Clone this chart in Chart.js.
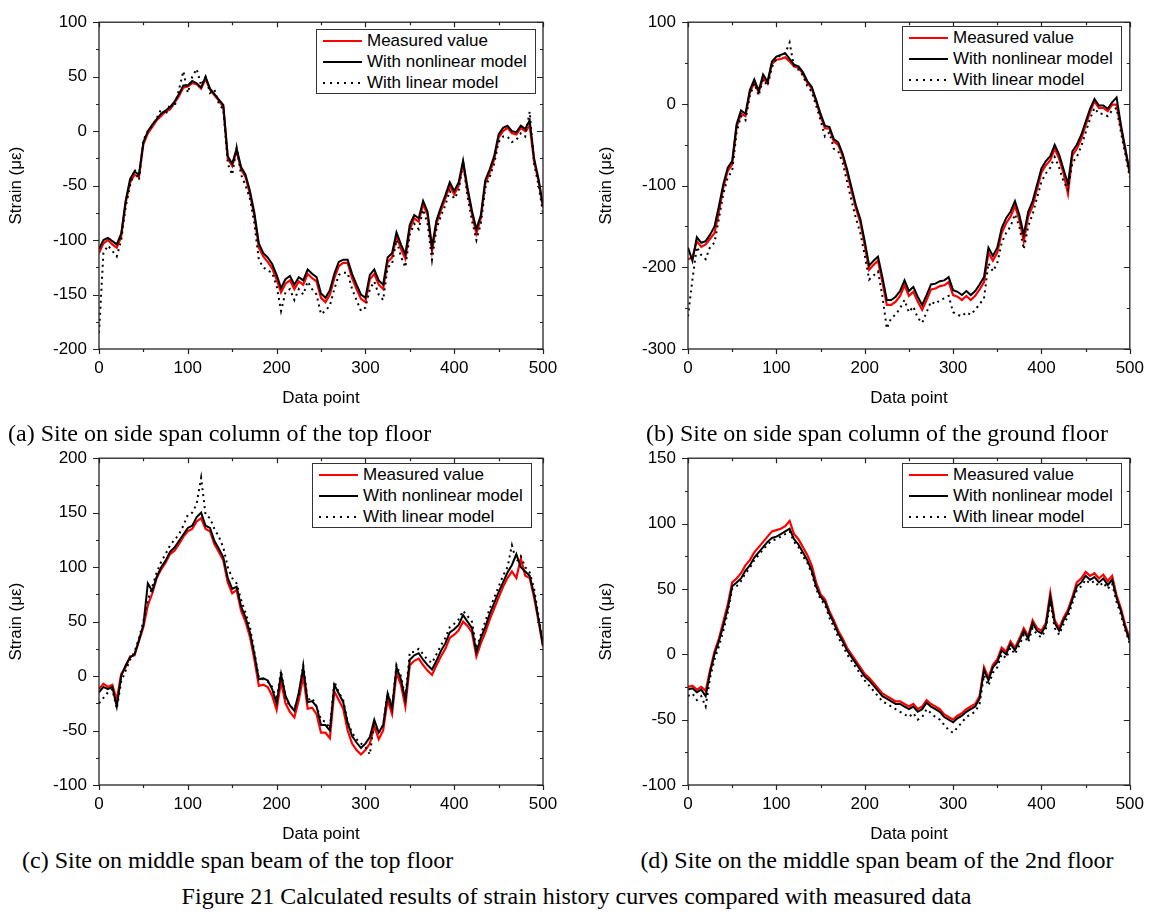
<!DOCTYPE html>
<html>
<head>
<meta charset="utf-8">
<script src="https://cdn.jsdelivr.net/npm/chart.js@4.4.0/dist/chart.umd.min.js"></script>
<style>
  body { margin: 0; width: 1153px; height: 916px; background: #fff; position: relative; overflow: hidden; font-family: "Liberation Sans", Arial, sans-serif; }
  canvas { position: absolute; }
  .legend { position: absolute; width: 220px; height: 65px; box-sizing: border-box; border: 1px solid #333; background: #fff; font-size: 17px; color: #000; }
  .legend .row { position: absolute; left: 0; height: 20px; line-height: 20px; width: 100%; }
  .legend .sample { position: absolute; left: 6px; top: 9px; width: 39px; height: 2px; }
  .legend .s0 { background: #ff0000; }
  .legend .s1 { background: #000; }
  .legend .s2 { background: repeating-linear-gradient(to right, #000 0 2.5px, transparent 2.5px 7px); }
  .legend .label { position: absolute; left: 50px; white-space: nowrap; }
  .caption { position: absolute; font-family: "Liberation Serif", "Times New Roman", serif; font-size: 24px; line-height: 24px; white-space: nowrap; color: #000; }
</style>
</head>
<body>
<canvas id="chartA" width="576" height="410" style="left:0px;top:0px"></canvas>
<canvas id="chartB" width="563" height="410" style="left:590px;top:0px"></canvas>
<canvas id="chartC" width="576" height="410" style="left:0px;top:436px"></canvas>
<canvas id="chartD" width="563" height="410" style="left:590px;top:436px"></canvas>

<div class="caption" style="left:8px;top:421px">(a) Site on side span column of the top floor</div>
<div class="caption" style="left:607px;width:540px;text-align:center;top:421px">(b) Site on side span column of the ground floor</div>
<div class="caption" style="left:22px;top:848px">(c) Site on middle span beam of the top floor</div>
<div class="caption" style="left:607px;width:540px;text-align:center;top:848px">(d) Site on the middle span beam of the 2nd floor</div>
<div class="caption" style="left:0;width:1153px;text-align:center;top:884px">Figure 21 Calculated results of strain history curves compared with measured data</div>

<script>
// Data point index (every 5th point)
const dataPoint = [0, 5, 10, 15, 20, 25, 30, 35, 40, 45, 50, 55, 60, 65, 70, 75, 80, 85, 90, 95,
  100, 105, 110, 115, 120, 125, 130, 135, 140, 145, 150, 155, 160, 165, 170, 175, 180, 185, 190, 195,
  200, 205, 210, 215, 220, 225, 230, 235, 240, 245, 250, 255, 260, 265, 270, 275, 280, 285, 290, 295,
  300, 305, 310, 315, 320, 325, 330, 335, 340, 345, 350, 355, 360, 365, 370, 375, 380, 385, 390, 395,
  400, 405, 410, 415, 420, 425, 430, 435, 440, 445, 450, 455, 460, 465, 470, 475, 480, 485, 490, 495, 500];

const seriesNames = ['Measured value', 'With nonlinear model', 'With linear model'];
const xTicks = [0, 100, 200, 300, 400, 500];

// (a) side span column, top floor
const aYTicks = [-200, -150, -100, -50, 0, 50, 100];
const aMeasured = [-112, -103, -100, -104, -107, -97, -66, -47, -40, -42,
  -12, -2, 4, 10, 14, 18, 20, 26, 32, 40,
  41, 44, 43, 39, 48, 38, 33, 28, 22, -25,
  -32, -18, -35, -42, -58, -78, -107, -115, -120, -126,
  -136, -148, -140, -137, -145, -138, -141, -131, -135, -138,
  -153, -157, -150, -135, -124, -121, -121, -135, -145, -154,
  -157, -136, -131, -141, -145, -120, -116, -96, -108, -117,
  -90, -80, -83, -67, -77, -110, -85, -73, -62, -50,
  -58, -50, -30, -55, -76, -94, -80, -48, -38, -26,
  -6, 0, 3, -2, -3, 3, 0, 5, -28, -46, -70];
const aNonlinear = [-108, -100, -98, -101, -104, -94, -64, -44, -37, -40,
  -10, 0, 6, 11, 16, 19, 22, 27, 34, 42,
  42, 46, 44, 40, 50, 39, 34, 29, 24, -23,
  -30, -16, -33, -40, -55, -75, -103, -112, -116, -122,
  -132, -144, -136, -133, -141, -134, -137, -127, -131, -134,
  -149, -153, -146, -131, -120, -118, -118, -131, -141, -150,
  -153, -132, -127, -137, -141, -116, -112, -93, -104, -113,
  -86, -77, -80, -64, -74, -106, -82, -70, -59, -47,
  -55, -47, -27, -52, -73, -90, -77, -45, -35, -23,
  -3, 3, 5, 0, -1, 5, 2, 10, -25, -44, -68];
const aLinear = [-185, -112, -105, -110, -115, -100, -70, -50, -35, -45,
  -8, 0, 5, 12, 20, 15, 25, 22, 38, 55,
  35, 50, 57, 42, 50, 35, 38, 25, 20, -30,
  -40, -15, -40, -50, -62, -85, -118, -125, -128, -130,
  -142, -165, -148, -145, -155, -145, -150, -138, -145, -150,
  -168, -165, -160, -145, -132, -130, -130, -145, -155, -165,
  -162, -145, -138, -150, -155, -125, -122, -100, -115, -125,
  -95, -85, -90, -72, -85, -118, -90, -78, -68, -55,
  -62, -55, -28, -60, -82, -100, -85, -52, -42, -30,
  -10, -5, -5, -10, -8, -2, -5, 18, -30, -50, -75];

// (b) side span column, ground floor
const bYTicks = [-300, -200, -100, 0, 100];
const bMeasured = [-190, -188, -168, -175, -172, -165, -158, -132, -102, -82,
  -74, -28, -12, -15, 14, 26, 14, 32, 25, 49,
  54, 55, 57, 52, 46, 44, 37, 26, 19, 3,
  -15, -30, -30, -46, -50, -64, -84, -106, -128, -145,
  -173, -203, -197, -192, -218, -246, -246, -242, -235, -222,
  -235, -230, -242, -252, -240, -227, -226, -223, -222, -218,
  -234, -236, -240, -235, -240, -235, -227, -218, -182, -192,
  -182, -158, -146, -138, -125, -142, -168, -138, -125, -104,
  -84, -75, -69, -55, -67, -85, -110, -63, -55, -43,
  -26, -10, 3, -5, -5, -9, -1, -1, -30, -58, -86];
const bNonlinear = [-176, -192, -163, -170, -168, -160, -150, -125, -98, -78,
  -70, -25, -8, -12, 17, 30, 16, 36, 27, 52,
  58, 60, 62, 55, 48, 46, 39, 28, 21, 5,
  -12, -27, -28, -43, -47, -61, -80, -102, -124, -141,
  -168, -198, -192, -187, -212, -240, -240, -236, -229, -216,
  -229, -224, -236, -246, -234, -221, -220, -217, -216, -212,
  -228, -230, -234, -229, -234, -229, -221, -212, -176, -186,
  -176, -152, -140, -132, -119, -136, -160, -132, -119, -99,
  -79, -70, -64, -50, -62, -80, -98, -58, -50, -38,
  -22, -6, 6, -2, -2, -6, 2, 8, -26, -55, -84];
const bLinear = [-260, -215, -175, -185, -190, -175, -170, -140, -110, -90,
  -82, -35, -15, -20, 10, 25, 10, 30, 22, 45,
  55, 60, 62, 75, 45, 42, 35, 22, 15, -2,
  -20, -40, -35, -55, -58, -72, -95, -118, -140, -158,
  -185, -215, -210, -205, -235, -275, -262, -258, -250, -240,
  -255, -248, -262, -268, -255, -242, -245, -240, -238, -235,
  -255, -258, -260, -255, -258, -252, -245, -238, -195, -205,
  -195, -170, -158, -150, -135, -150, -178, -150, -135, -115,
  -95, -85, -78, -65, -78, -95, -105, -72, -65, -52,
  -35, -18, -5, -12, -12, -15, -8, -5, -35, -62, -90];

// (c) middle span beam, top floor
const cYTicks = [-100, -50, 0, 50, 100, 150, 200];
const cMeasured = [-12, -7, -10, -8, -22, 2, 8, 18, 19, 32,
  45, 65, 76, 90, 98, 104, 112, 115, 121, 128,
  133, 135, 142, 145, 135, 133, 121, 114, 106, 86,
  76, 79, 60, 50, 36, 15, -9, -8, -10, -18,
  -31, -5, -25, -33, -38, -22, 0, -30, -29, -35,
  -52, -52, -57, -14, -22, -30, -50, -62, -68, -72,
  -68, -62, -46, -58, -50, -22, -35, 3, -8, -28,
  10, 14, 16, 10, 5, 1, 10, 18, 25, 35,
  38, 42, 50, 46, 40, 18, 30, 40, 52, 62,
  72, 82, 90, 96, 90, 108, 92, 90, 72, 50, 27];
const cNonlinear = [-15, -10, -12, -10, -28, 0, 10, 17, 20, 33,
  47, 85, 78, 91, 100, 106, 114, 118, 124, 130,
  136, 138, 146, 150, 138, 136, 124, 117, 109, 90,
  80, 82, 64, 54, 40, 20, -3, -2, -4, -12,
  -25, 2, -18, -27, -32, -15, 8, -24, -23, -28,
  -45, -45, -50, -8, -16, -24, -43, -55, -61, -66,
  -62, -56, -40, -52, -45, -16, -30, 8, -3, -22,
  15, 19, 21, 15, 10, 6, 14, 23, 30, 40,
  43, 47, 56, 50, 44, 22, 35, 45, 57, 67,
  77, 86, 95, 102, 112, 100, 96, 92, 75, 52, 28];
const cLinear = [-25, -20, -15, -12, -30, -5, 5, 15, 22, 35,
  50, 70, 82, 95, 105, 112, 120, 125, 130, 138,
  148, 150, 158, 182, 148, 145, 135, 128, 118, 100,
  90, 85, 70, 58, 45, 22, -2, -3, -5, -10,
  -22, 5, -20, -28, -30, -18, 10, -22, -20, -28,
  -40, -42, -48, -5, -15, -22, -42, -52, -58, -62,
  -65, -72, -42, -52, -45, -15, -28, 10, 0, -20,
  22, 22, 25, 20, 15, 12, 20, 28, 35, 45,
  48, 52, 60, 55, 50, 25, 38, 50, 62, 72,
  82, 92, 100, 120, 105, 110, 100, 95, 80, 55, 30];

// (d) middle span beam, 2nd floor
const dYTicks = [-100, -50, 0, 50, 100, 150];
const dMeasured = [-25, -24, -27, -25, -28, -12, 2, 12, 25, 38,
  55, 58, 62, 68, 72, 78, 82, 86, 90, 94,
  95, 96, 98, 102, 92, 88, 82, 76, 68, 55,
  46, 42, 33, 26, 18, 12, 5, 0, -5, -10,
  -15, -18, -22, -26, -30, -32, -34, -36, -36, -38,
  -40, -38, -42, -40, -35, -38, -40, -42, -46, -48,
  -50, -47, -45, -42, -40, -38, -32, -10, -18, -8,
  -4, 5, 2, 10, 5, 12, 20, 14, 26, 20,
  18, 24, 47, 26, 20, 28, 34, 44, 55, 58,
  63, 60, 62, 58, 61, 56, 60, 45, 35, 22, 12];
const dNonlinear = [-27, -26, -29, -27, -32, -14, 0, 10, 22, 35,
  52, 55, 58, 64, 68, 74, 78, 82, 86, 89,
  90, 92, 94, 96, 88, 84, 78, 72, 64, 52,
  44, 40, 31, 24, 16, 10, 3, -2, -7, -12,
  -17, -20, -24, -28, -32, -34, -36, -38, -38, -40,
  -42, -40, -44, -42, -37, -40, -42, -44, -48, -50,
  -52, -49, -47, -44, -42, -40, -34, -12, -20, -10,
  -6, 3, 0, 8, 3, 10, 18, 12, 24, 18,
  16, 22, 44, 24, 18, 26, 32, 42, 52, 55,
  60, 57, 59, 55, 58, 53, 57, 43, 33, 20, 10];
const dLinear = [-32, -30, -35, -32, -40, -18, -4, 6, 18, 32,
  50, 52, 56, 62, 66, 72, 76, 80, 84, 87,
  88, 90, 92, 94, 86, 82, 75, 70, 62, 50,
  42, 38, 28, 21, 13, 7, 0, -5, -10, -15,
  -20, -24, -28, -32, -36, -38, -40, -42, -44, -46,
  -48, -45, -50, -48, -42, -45, -48, -50, -54, -58,
  -60, -56, -52, -48, -46, -44, -38, -16, -24, -14,
  -10, 0, -3, 5, 0, 7, 15, 9, 20, 15,
  13, 19, 40, 20, 15, 23, 29, 39, 49, 52,
  57, 54, 56, 52, 55, 50, 54, 40, 30, 18, 8];

const axisFont = { family: 'Liberation Sans', size: 17 };

// box around the plot with ticks out on left/bottom and in on top/right
const framePlugin = {
  id: 'frame',
  afterDraw(chart) {
    const { ctx, chartArea: a, scales: { x, y } } = chart;
    const xStep = xTicks[1] - xTicks[0];
    const yTicks = chart.options.plugins.frame.yTicks;
    const yStep = yTicks[1] - yTicks[0];
    ctx.save();
    ctx.strokeStyle = '#222';
    ctx.lineWidth = 1.3;
    ctx.strokeRect(a.left, a.top, a.right - a.left, a.bottom - a.top);
    ctx.lineWidth = 1.2;
    ctx.beginPath();
    for (let v = xTicks[0]; v <= xTicks[xTicks.length - 1]; v += xStep / 2) {
      const px = Math.round(x.getPixelForValue(v)) + 0.5;
      const len = (v - xTicks[0]) % xStep === 0 ? 5 : 3;
      ctx.moveTo(px, a.bottom); ctx.lineTo(px, a.bottom + len);
      ctx.moveTo(px, a.top); ctx.lineTo(px, a.top + len);
    }
    for (let v = yTicks[0]; v <= yTicks[yTicks.length - 1]; v += yStep / 2) {
      const py = Math.round(y.getPixelForValue(v)) + 0.5;
      const len = (v - yTicks[0]) % yStep === 0 ? 6 : 3;
      ctx.moveTo(a.left, py); ctx.lineTo(a.left - len, py);
      ctx.moveTo(a.right, py); ctx.lineTo(a.right - len, py);
    }
    ctx.stroke();
    ctx.restore();
  }
};

function makeChart(id, measured, nonlinear, linear, yTicks, yAxisWidth, rightPad) {
  const pts = arr => dataPoint.map((x, i) => ({ x: x, y: arr[i] }));
  return new Chart(document.getElementById(id), {
    type: 'line',
    data: {
      datasets: [
        { label: seriesNames[0], data: pts(measured), borderColor: '#ff0000', borderWidth: 2.2, order: 3 },
        { label: seriesNames[1], data: pts(nonlinear), borderColor: '#000000', borderWidth: 2, order: 2 },
        { label: seriesNames[2], data: pts(linear), borderColor: '#000000', borderWidth: 2, borderDash: [2, 4], order: 1 }
      ]
    },
    options: {
      responsive: false,
      animation: false,
      elements: { point: { radius: 0 }, line: { tension: 0 } },
      layout: { padding: { top: 22, right: rightPad, left: 0, bottom: 0 } },
      plugins: {
        legend: { display: false },
        tooltip: { enabled: false },
        frame: { yTicks: yTicks }
      },
      scales: {
        x: {
          type: 'linear',
          min: xTicks[0],
          max: xTicks[xTicks.length - 1],
          ticks: { stepSize: xTicks[1] - xTicks[0], font: axisFont, color: '#000', padding: 9, maxRotation: 0 },
          grid: { display: false, drawTicks: false },
          border: { display: false },
          title: { display: true, text: 'Data point', font: axisFont, color: '#000', padding: { top: 0, bottom: 1.5 } },
          afterFit: s => { s.height = 61; }
        },
        y: {
          type: 'linear',
          min: yTicks[0],
          max: yTicks[yTicks.length - 1],
          ticks: { stepSize: yTicks[1] - yTicks[0], font: axisFont, color: '#000', padding: 12 },
          grid: { display: false, drawTicks: false },
          border: { display: false },
          title: { display: true, text: 'Strain (με)', font: axisFont, color: '#000', padding: { top: 6, bottom: 0 } },
          afterFit: s => { s.width = yAxisWidth; }
        }
      }
    },
    plugins: [framePlugin]
  });
}

function addLegend(left, top) {
  const box = document.createElement('div');
  box.className = 'legend';
  box.style.left = left + 'px';
  box.style.top = top + 'px';
  seriesNames.forEach((name, k) => {
    const row = document.createElement('div');
    row.className = 'row';
    row.style.top = (1 + k * 21) + 'px';
    row.innerHTML = '<span class="sample s' + k + '"></span><span class="label">' + name + '</span>';
    box.appendChild(row);
  });
  document.body.appendChild(box);
}

makeChart('chartA', aMeasured, aNonlinear, aLinear, aYTicks, 99, 33);
makeChart('chartB', bMeasured, bNonlinear, bLinear, bYTicks, 98, 21);
makeChart('chartC', cMeasured, cNonlinear, cLinear, cYTicks, 99, 33);
makeChart('chartD', dMeasured, dNonlinear, dLinear, dYTicks, 98, 21);

addLegend(316, 29);
addLegend(902, 26);
addLegend(312, 463);
addLegend(902, 463);
</script>
</body>
</html>
